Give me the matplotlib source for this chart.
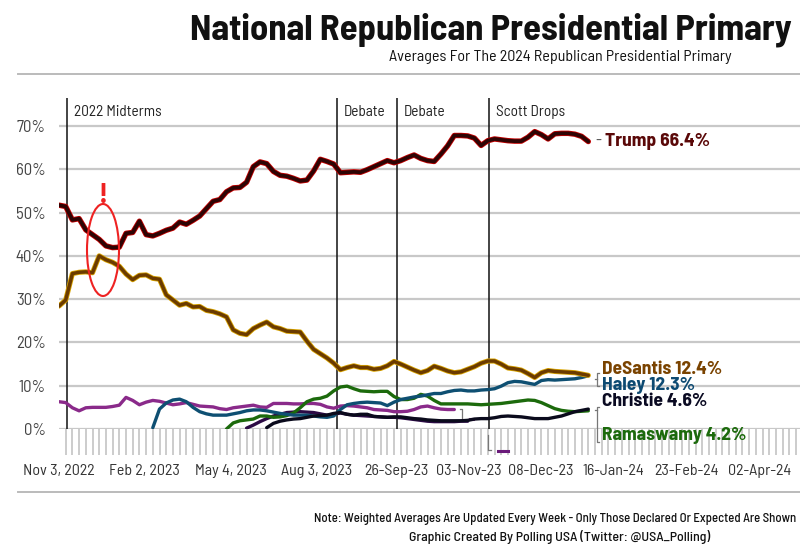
import numpy as np
import matplotlib
matplotlib.use("Agg")
import matplotlib.pyplot as plt
from matplotlib.patches import Ellipse
import matplotlib.patheffects as pe

# ---------------- data (weekly index units) ----------------
trump_start = 0
trump = [51.7, 51.4, 48.3, 48.6, 46.0, 44.9, 43.8, 42.3, 41.9, 42.0,
         45.2, 45.4, 48.0, 44.9, 44.6, 45.2, 45.9, 46.4, 47.8, 47.3,
         48.2, 49.2, 50.9, 52.6, 53.0, 54.8, 55.7, 55.8, 57.0, 60.6,
         61.7, 61.3, 59.5, 58.6, 58.4, 57.9, 57.3, 57.5, 59.6, 62.3,
         61.8, 61.2, 59.2, 59.3, 59.4, 59.3, 59.9, 60.6, 61.3, 62.0,
         61.5, 62.0, 62.7, 63.3, 62.5, 62.0, 61.8, 63.5, 65.4, 67.8,
         67.8, 67.7, 67.2, 65.5, 66.6, 67.0, 66.8, 66.6, 66.5, 66.5,
         67.4, 68.7, 68.0, 67.0, 68.2, 68.3, 68.3, 68.1, 67.6, 66.4]

desantis_start = 0
desantis = [28.4, 29.8, 35.9, 36.2, 36.3, 36.1, 40.0, 39.1, 38.5, 37.6,
            35.8, 34.5, 35.5, 35.6, 34.8, 34.6, 31.0, 29.8, 28.6, 29.0,
            28.2, 28.3, 27.4, 27.1, 26.6, 25.9, 22.9, 22.1, 21.8, 23.2,
            24.0, 24.7, 23.6, 23.2, 22.6, 22.5, 22.4, 20.3, 18.4, 17.4,
            16.4, 15.2, 13.7, 14.2, 14.6, 14.2, 14.2, 13.8, 14.0, 14.6,
            15.6, 15.0, 14.3, 13.6, 13.0, 13.5, 14.5, 14.0, 13.4, 13.0,
            13.2, 13.8, 14.4, 15.2, 15.7, 15.7, 15.0, 14.1, 13.9, 13.6,
            12.8, 11.9, 13.0, 13.5, 13.3, 13.2, 13.1, 13.0, 12.7, 12.4]

haley_start = 14
haley = [0.3, 4.6, 6.0, 6.7, 6.9, 6.3, 5.0, 4.0, 3.5, 3.2,
         3.2, 3.2, 3.5, 3.8, 4.2, 4.4, 4.4, 4.2, 3.9, 3.6,
         3.4, 3.2, 3.2, 3.2, 3.0, 2.8, 2.7, 3.0, 4.5, 5.6,
         5.9, 6.1, 6.2, 6.1, 6.0, 5.4, 6.2, 6.8, 7.1, 7.4,
         7.6, 7.9, 8.2, 8.2, 8.6, 8.9, 9.0, 8.8, 8.8, 9.0,
         9.1, 9.3, 9.9, 10.7, 11.0, 10.9, 10.6, 10.3, 11.2, 11.4,
         11.3, 11.4, 11.5, 11.6, 11.9, 12.3]

ramaswamy_start = 25
ramaswamy = [0.0, 1.4, 1.9, 2.1, 2.3, 3.0, 3.0, 2.7, 2.8, 3.1,
             3.7, 4.9, 6.3, 6.9, 7.1, 7.6, 8.8, 9.7, 9.9, 9.3,
             8.8, 8.7, 8.6, 8.7, 8.7, 7.5, 6.8, 6.8, 7.1, 8.0,
             7.6, 6.6, 5.8, 5.8, 5.8, 5.8, 5.8, 5.7, 5.6, 5.7,
             5.8, 5.9, 6.1, 6.3, 6.5, 6.7, 6.6, 6.1, 5.4, 4.7,
             4.3, 4.1, 4.0, 4.1, 4.2]

pence_start = 0
pence = [6.3, 6.1, 4.9, 4.2, 4.9, 5.0, 5.0, 5.0, 5.2, 5.5,
         7.3, 6.6, 5.6, 6.2, 6.6, 6.4, 6.0, 5.6, 5.8, 6.1,
         5.7, 5.3, 5.2, 5.1, 4.7, 4.5, 4.9, 5.1, 5.3, 5.5,
         5.1, 5.0, 5.9, 5.9, 5.9, 5.8, 5.8, 5.9, 5.9, 5.7,
         5.1, 4.8, 5.3, 5.4, 5.3, 5.1, 4.9, 4.5, 4.4, 4.3,
         4.0, 4.0, 4.1, 4.5, 5.1, 5.3, 4.9, 4.6, 4.5, 4.5]

scott_start = 28
scott = [0.2, 0.9, 1.7, 2.4, 3.0, 3.4, 3.8, 3.9, 4.0, 3.9,
         3.8, 3.5, 3.2, 3.4, 3.7, 3.4, 3.2, 3.1, 3.0, 2.9,
         2.8, 2.7, 2.7, 2.6, 2.4, 2.2, 2.0, 1.8, 1.7, 1.7,
         1.7, 1.7, 1.8, 1.8]

christie_start = 31
christie = [0.3, 1.3, 1.8, 2.1, 2.3, 2.4, 2.7, 3.0, 3.1, 3.2,
            3.6, 3.8, 3.4, 3.2, 3.4, 3.4, 2.9, 2.8, 2.7, 2.8,
            2.8, 2.6, 2.4, 2.3, 2.1, 2.0, 1.9, 1.9, 1.9, 1.9,
            2.0, 2.3, 2.4, 2.4, 2.6, 2.9, 3.0, 2.9, 2.8, 2.6,
            2.4, 2.4, 2.4, 2.7, 3.0, 3.5, 4.0, 4.3, 4.6]

x_tick_pos = [0, 12.8, 25.7, 38.5, 50.3, 61.2, 71.9, 82.8, 93.6, 104.5]
x_tick_labels = ["Nov 3, 2022", "Feb 2, 2023", "May 4, 2023", "Aug 3, 2023",
                 "26-Sep-23", "03-Nov-23", "08-Dec-23", "16-Jan-24",
                 "23-Feb-24", "02-Apr-24"]
y_ticks = [0, 10, 20, 30, 40, 50, 60, 70]

event_pos = [1.2, 41.5, 50.4, 64.2]
event_labels = ["2022 Midterms", "Debate", "Debate", "Scott Drops"]

end_labels = ["Trump 66.4%", "DeSantis 12.4%", "Haley 12.3%",
              "Christie 4.6%", "Ramaswamy 4.2%"]

# ---------------- styling ----------------
FF = ["Barlow Semi Condensed", "Asap Condensed", "DejaVu Sans"]

fig = plt.figure(figsize=(8, 5.49), dpi=100)
ax = fig.add_axes([59 / 800, 1 - 429 / 549, 1 - 59 / 800, (429 - 98) / 549])

XMAX = (800 - 59) / 6.7
ax.set_xlim(0, XMAX)
ax.set_ylim(0, (429 - 98) / 4.329)

for s in ax.spines.values():
    s.set_visible(False)

# grid
for yv in y_ticks:
    ax.axhline(yv, color="#c8c8c8", lw=1.6, zorder=1)

# hatch ticks below axis
ax.set_xticks(np.arange(0, int(XMAX) + 1), minor=True)
ax.tick_params(axis="x", which="minor", length=19, width=1.3, color="#c8c8c8", direction="out")
ax.set_xticks(x_tick_pos)
ax.set_xticklabels(x_tick_labels, family=FF, fontsize=11.5, color="#333333")
ax.tick_params(axis="x", which="major", length=0, pad=25)

ax.set_yticks(y_ticks)
ax.set_yticklabels([f"{v}%" for v in y_ticks], family=FF, fontsize=12, color="#444444")
ax.tick_params(axis="y", length=0, pad=9.5)

# event lines
for xp, lab in zip(event_pos, event_labels):
    ax.axvline(xp, color="#111111", lw=1.1, zorder=2)
    ax.text(xp + 1.0, 73.3, lab, family=FF, fontsize=11, color="#222222",
            va="center", ha="left")


def series(start, vals):
    return np.arange(start, start + len(vals)), np.array(vals)


# lines
x, y = series(pence_start, pence)
ax.plot(x, y, color="#8a2a8a", lw=2.4, zorder=3, solid_capstyle="round")
x, y = series(scott_start, scott)
ax.plot(x, y, color="#2c0b45", lw=2.4, zorder=3, solid_capstyle="round")
x, y = series(ramaswamy_start, ramaswamy)
ax.plot(x, y, color="#1c6a0c", lw=2.4, zorder=4, solid_capstyle="round")
x, y = series(haley_start, haley)
ax.plot(x, y, color="#0e4f72", lw=2.4, zorder=4, solid_capstyle="round")
x, y = series(christie_start, christie)
ax.plot(x, y, color="#0a0a1c", lw=2.4, zorder=5, solid_capstyle="round")
x, y = series(desantis_start, desantis)
ax.plot(x, y, color="#6b3b00", lw=2.5, zorder=6, solid_capstyle="round",
        path_effects=[pe.Stroke(linewidth=3.7, foreground="#d9a400"), pe.Normal()])
x, y = series(trump_start, trump)
ax.plot(x, y, color="#2e0404", lw=2.7, zorder=7, solid_capstyle="round",
        path_effects=[pe.Stroke(linewidth=3.9, foreground="#c40000"), pe.Normal()])

# red ellipse and "!"
ax.add_patch(Ellipse(((103 - 59) / 6.7, (429 - 250) / 4.329), 32 / 6.7, 92 / 4.329,
                     fill=False, edgecolor="#ee2222", lw=1.5, zorder=8))
ax.text((103 - 59) / 6.7, (429 - 196) / 4.329, "!", color="#ee2222", fontsize=21,
        fontweight="bold", ha="center", va="center", family=FF, zorder=8)

# end labels
lx = (602 - 59) / 6.7
ax.text((595 - 59) / 6.7, trump[-1], "-", color="#555555", fontsize=12,
        ha="left", va="center", family=FF, clip_on=False)
ax.text(lx + 0.4, trump[-1], end_labels[0], color="#5a0808", fontsize=14,
        fontweight="bold", ha="left", va="center", family=FF)
lab_y = [(429 - 369) / 4.329, (429 - 385) / 4.329, (429 - 402) / 4.329, (429 - 436) / 4.329]
lab_c = ["#7a4300", "#0d4a72", "#0a0a22", "#1c6a0c"]
for t, yy, c in zip(end_labels[1:], lab_y, lab_c):
    ax.text(lx, yy, t, color=c, fontsize=14, fontweight="bold", ha="left",
            va="center", family=FF, clip_on=False)

# small brackets
bx = (597 - 59) / 6.7
ax.plot([bx + 0.25, bx, bx, bx + 0.25], [13.0, 13.0, 9.9, 9.9], color="#777777", lw=0.9, clip_on=False)
ax.plot([bx - 0.25, bx], [11.5, 11.5], color="#777777", lw=0.9, clip_on=False)
ax.plot([bx + 0.25, bx, bx, bx + 0.25], [5.0, 5.0, -3.0, -3.0], color="#777777", lw=0.9, clip_on=False)
ax.plot([bx - 0.25, bx], [4.4, 4.4], color="#777777", lw=0.9, clip_on=False)
# pence / scott drop marks
px1 = (462 - 59) / 6.7
ax.plot([px1 - 0.3, px1, px1], [4.6, 4.6, 2.6], color="#777777", lw=0.9)
ax.plot([(470 - 59) / 6.7, (473 - 59) / 6.7], [2.4, 2.4], color="#8a2a8a", lw=2.2)
px2 = (488 - 59) / 6.7
ax.plot([px2, px2, px2 + 0.4], [-1.5, -4.9, -4.9], color="#777777", lw=0.9, clip_on=False)
ax.plot([(498 - 59) / 6.7, (502 - 59) / 6.7], [-5.0, -5.0], color="#6a1a7a", lw=2.2, clip_on=False)
ax.plot([(504 - 59) / 6.7, (508 - 59) / 6.7], [-5.0, -5.0], color="#6a1a7a", lw=2.2, clip_on=False)

# titles and separators
title = fig.text(190 / 800, 1 - 30 / 549, "National Republican Presidential Primary",
                 family=FF, fontsize=26.5, fontweight="bold", color="#111111",
                 ha="left", va="center")
fig.text(560 / 800, 1 - 57 / 549, "Averages For The 2024 Republican Presidential Primary",
         family=FF, fontsize=11.5, color="#111111", ha="center", va="center")
fig.add_artist(plt.Line2D([18 / 800, 1], [1 - 74 / 549] * 2, color="#bbbbbb", lw=1.4))
fig.add_artist(plt.Line2D([18 / 800, 1], [1 - 492 / 549] * 2, color="#bbbbbb", lw=1.4))
note = fig.text(314 / 800, 1 - 519 / 549,
                "Note: Weighted Averages Are Updated Every Week - Only Those Declared Or Expected Are Shown",
                family=FF, fontsize=10, fontweight="medium", color="#111111", ha="left", va="center")
fig.text(560 / 800, 1 - 537 / 549, "Graphic Created By Polling USA (Twitter: @USA_Polling)",
         family=FF, fontsize=10, fontweight="medium", color="#111111", ha="center", va="center")


def fit(txt, max_right):
    r = fig.canvas.get_renderer()
    fs = txt.get_fontsize()
    while txt.get_window_extent(r).x1 > max_right and fs > 5:
        fs -= 0.1
        txt.set_fontsize(fs)


fit(title, 793)
fit(note, 797)

fig.savefig("out.png", dpi=100)
